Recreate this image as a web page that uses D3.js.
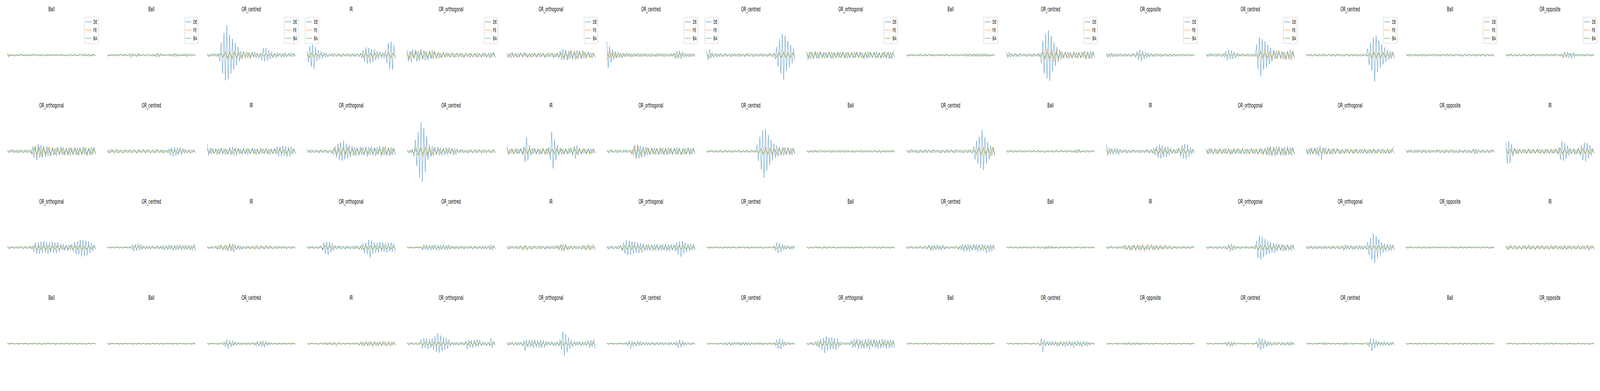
<!DOCTYPE html>
<html><head><meta charset="utf-8">
<script src="https://cdn.jsdelivr.net/npm/d3@7"></script>
<style>html,body{margin:0;padding:0;width:100%;height:100%;overflow:hidden;background:#fff}#chart{width:100%;height:100%}svg{display:block}</style>
</head><body><div id="chart"></div>
<script>
// ---------- labels ----------
const SERIES = ["DE", "FE", "BA"];
const TITLES_R0 = ["Ball","Ball","OR_centred","IR","OR_orthogonal","OR_orthogonal","OR_centred","OR_centred","OR_orthogonal","Ball","OR_centred","OR_opposite","OR_centred","OR_centred","Ball","OR_opposite"];
const TITLES_R1 = ["OR_orthogonal","OR_centred","IR","OR_orthogonal","OR_centred","IR","OR_orthogonal","OR_centred","Ball","OR_centred","Ball","IR","OR_orthogonal","OR_orthogonal","OR_opposite","IR"];
const TITLES_R2 = ["OR_orthogonal","OR_centred","IR","OR_orthogonal","OR_centred","IR","OR_orthogonal","OR_centred","Ball","OR_centred","Ball","IR","OR_orthogonal","OR_orthogonal","OR_opposite","IR"];
const TITLES_R3 = ["Ball","Ball","OR_centred","IR","OR_orthogonal","OR_orthogonal","OR_centred","OR_centred","OR_orthogonal","Ball","OR_centred","OR_opposite","OR_centred","OR_centred","Ball","OR_opposite"];
// legend corner per panel of the first row (only the first row has legends)
const LEGEND_LOC_R0 = ["right","right","right","left","right","right","right","left","right","right","right","right","right","right","right","right"];
// signal amplitude (shared y axis), arbitrary units
const Y_DOMAIN = [-100, 100];

// ---------- row 0 signals ----------
const DE_R0 = [
[4,-5,3,-2,2,-3,1,-2,2,-1,3,-2,1,-3,2,-1,1,-2,3,-1,2,-2,1,-3,2,-1,2,-3,1,-1,2,-2,1,-1,2,-1,1,-2,3,-1,1,-2,1,-1,2,-3,1,-1,2,-1,1,-2,2,-1,3,-3,4,-2,3,-4,2,-3,2,-2],
[2,-3,2,-1,3,-2,1,-3,2,-1,2,-2,3,-1,2,-3,5,-6,4,-3,2,-4,5,-3,2,-1,2,-3,1,-2,2,-1,2,-3,3,-5,6,-5,4,-2,1,-2,2,-1,3,-2,2,-4,5,-4,3,-3,2,-2,3,-2,4,-4,3,-2,3,-1,2,-2],
[3,-4,2,-3,4,-2,3,-4,5,-15,30,-45,55,-62,74,-59,50,-45,40,-35,30,-25,20,-15,10,-8,9,-6,8,-7,6,-8,7,-5,8,-6,5,-7,6,-12,17,-16,18,-14,12,-10,8,-6,5,-7,6,-4,5,-6,4,-5,6,-4,5,-3,6,-5,4,-3],
[10,-18,22,-28,26,-34,20,-15,12,-10,9,-8,7,-6,5,-4,4,-3,5,-4,3,-4,4,-3,3,-4,4,-3,4,-3,3,-5,4,-3,4,-4,3,-4,5,-8,12,-16,19,-21,18,-20,15,-17,14,-12,10,-9,8,-7,6,-8,12,-20,30,-34,33,-36,25,-10],
[12,-15,10,-17,14,-9,13,-16,11,-14,15,-10,12,-13,9,-12,10,-8,11,-9,8,-7,6,-8,5,-6,7,-5,6,-4,5,-6,6,-5,4,-6,5,-4,6,-5,4,-5,6,-4,5,-6,4,-5,5,-4,6,-5,4,-6,5,-4,6,-5,4,-7,6,-5,8,-6],
[5,-6,4,-7,6,-5,4,-6,5,-4,6,-5,7,-4,5,-6,4,-5,6,-4,5,-6,4,-5,6,-4,5,-6,4,-5,6,-4,5,-6,4,-5,6,-7,10,-12,15,-11,13,-12,10,-9,12,-10,9,-11,12,-8,10,-9,11,-8,7,-6,8,-5,6,-7,5,-6],
[34,-31,22,-18,14,-11,9,-8,7,-6,5,-7,5,-4,6,-4,4,-5,3,-4,4,-3,5,-4,3,-4,4,-3,4,-4,3,-4,4,-3,3,-4,4,-3,4,-3,3,-4,4,-3,3,-4,4,-3,5,-9,10,-8,11,-9,8,-6,5,-4,4,-5,3,-4,4,-3],
[10,-12,15,-8,6,-5,4,-5,4,-3,4,-4,3,-4,4,-3,3,-4,4,-3,4,-3,3,-4,4,-3,3,-4,4,-3,4,-3,3,-4,4,-3,3,-4,4,-3,4,-3,3,-4,4,-3,4,-5,6,-10,20,-28,39,-45,52,-60,48,-39,35,-31,25,-20,16,-13],
[9,-11,8,-10,7,-9,10,-8,7,-9,8,-6,7,-8,6,-7,8,-6,7,-8,6,-7,8,-6,7,-6,8,-7,6,-8,7,-6,6,-7,8,-6,7,-6,8,-7,6,-8,7,-6,8,-7,6,-7,7,-6,8,-7,6,-8,7,-6,8,-7,6,-8,7,-9,8,13],
[2,-3,2,-2,3,-2,2,-3,2,-2,3,-2,2,-3,2,-2,3,-2,2,-3,2,-2,3,-2,2,-3,2,-2,3,-2,2,-3,2,-2,3,-2,2,-3,2,-2,3,-2,4,-3,4,-4,3,-4,4,-3,4,-4,3,-4,4,-3,4,-3,3,-4,3,-2,2,-3],
[8,-6,7,-5,4,-3,4,-4,3,-4,4,-3,4,-3,3,-4,4,-3,3,-4,4,-3,4,-3,5,-20,35,-45,52,-57,61,-63,47,-40,31,-26,20,-16,13,-10,8,-7,8,-6,7,-8,6,-7,8,-6,7,-8,6,-7,8,-6,9,-10,8,-9,10,-8,9,-7],
[5,-6,4,-5,6,-4,3,-4,4,-3,4,-4,3,-4,4,-3,3,-4,4,-3,4,-6,9,-12,13,-14,11,-10,8,-7,6,-5,4,-4,3,-4,4,-3,3,-4,3,-3,4,-3,3,-4,3,-3,3,-3,2,-3,3,-2,3,-3,2,-3,3,-2,3,-2,2,-3],
[3,-4,4,-3,4,-3,3,-4,4,-3,3,-4,4,-6,10,-12,13,-10,11,-9,8,-7,5,-4,3,-3,4,-3,3,-3,4,-3,3,-4,3,-3,26,-35,44,-52,39,-36,34,-30,26,-22,18,-16,12,-10,11,-9,10,-8,9,-10,8,-11,10,-9,13,-12,10,-8],
[3,-2,3,-3,2,-3,3,-2,3,-3,2,-3,4,-3,2,-3,3,-2,3,-3,2,-4,3,-2,3,-3,2,-3,3,-2,3,-3,2,-3,3,-2,3,-3,2,-3,3,-2,3,-3,16,-24,31,-38,44,-65,48,-42,36,-31,27,-23,19,-16,13,-11,10,-9,8,-8],
[3,-2,3,-3,2,-3,3,-2,2,-3,3,-2,3,-3,2,-3,3,-2,2,-3,3,-2,3,-3,2,-3,3,-2,2,-3,3,-2,3,-3,2,-3,3,-2,3,-3,2,-3,3,-2,3,-3,2,-2,3,-2,3,-3,2,-3,3,-2,2,-3,3,-2,3,-3,2,-3],
[2,-3,3,-2,3,-3,2,-3,3,-2,2,-3,3,-2,3,-3,2,-3,2,-2,3,-3,2,-2,3,-2,3,-3,2,-3,3,-2,2,-3,3,-2,3,-2,2,-3,4,-7,8,-6,8,-7,6,-8,7,-5,4,-3,3,-2,3,-3,2,-3,3,-2,2,-3,3,-2]
];
const FE_R0 = [
[1,-2,1,-1,2,-1,1,-2,1,-1,2,-1,1,-1,2,-2,1,-1,2,-1,1,-2,1,-1,2,-1,1,-1,2,-2,1,-1,2,-1,1,-2,1,-1,2,-1],
[2,-1,2,-2,1,-1,3,-2,1,-2,2,-1,3,-2,1,-1,2,-1,2,-2,1,-2,2,-1,1,-1,2,-2,3,-1,2,-2,1,-1,2,-3,2,-1,1,-1],
[3,-2,3,-3,2,-3,5,-6,9,-10,8,-11,10,-9,8,-10,9,-8,7,-9,6,-5,4,-5,4,-3,5,-4,3,-5,4,-3,3,-4,4,-3,3,-2,3,-3],
[6,-8,7,-6,5,-4,4,-3,3,-4,3,-3,4,-3,3,-4,3,-3,4,-3,3,-4,4,-3,4,-7,8,-7,6,-8,7,-5,4,-3,4,-5,7,-8,6,-5],
[8,-11,10,-9,12,-10,9,-11,10,-8,11,-9,12,-10,8,-6,6,-7,5,-6,7,-5,6,-5,5,-6,4,-5,6,-4,5,-6,5,-4,6,-5,4,-6,5,-4],
[4,-5,6,-4,5,-6,4,-5,6,-4,5,-5,4,-6,5,-4,6,-5,4,-5,6,-4,5,-6,7,-10,9,-11,10,-9,11,-10,9,-8,10,-9,8,-7,6,-5],
[-12,10,-8,7,-6,5,-5,4,-4,5,-3,4,-4,3,-4,4,-3,4,-3,3,-4,3,-3,4,-3,3,-4,3,-3,4,-5,6,-5,4,-4,3,-3,4,-3,3],
[5,-6,4,-4,3,-4,3,-3,4,-3,3,-4,3,-3,4,-3,3,-3,4,-3,3,-4,3,-3,3,-4,3,-3,4,-3,3,-6,8,-7,9,-8,7,-8,6,-5],
[7,-8,9,-6,8,-7,9,-8,6,-7,8,-9,7,-6,8,-7,6,-8,7,-6,8,-7,9,-6,7,-8,6,-7,8,-6,7,-8,6,-7,8,-6,7,-8,6,-5],
[2,-2,1,-2,2,-1,2,-2,1,-2,2,-1,2,-2,1,-2,2,-1,2,-2,1,-2,2,-1,2,-2,1,-2,2,-1,2,-2,1,-2,2,-1,2,-2,1,-1],
[4,-3,3,-4,3,-3,4,-3,3,-4,3,-3,4,-3,3,-5,8,-12,16,-14,15,-16,12,-13,10,-9,8,-9,7,-8,8,-7,8,-7,8,-9,7,-8,8,-6],
[4,-4,3,-4,3,-3,3,-3,3,-3,3,-3,3,-4,4,-3,4,-3,3,-3,3,-3,3,-2,3,-2,2,-3,2,-2,3,-2,2,-3,2,-2,3,-2,2,-2],
[3,-3,3,-2,3,-3,4,-3,4,-3,3,-3,3,-3,3,-3,3,-3,3,-3,3,-3,3,-8,12,-10,13,-11,10,-13,11,-9,12,-10,8,-11,9,-12,10,-8],
[3,-2,3,-3,2,-3,3,-2,3,-3,2,-3,3,-2,3,-3,2,-3,3,-2,3,-3,2,-3,3,-2,3,-3,5,-8,9,-8,7,-9,8,-7,8,-6,7,-6],
[2,-3,2,-2,3,-2,2,-3,2,-2,3,-2,2,-3,2,-2,3,-2,2,-3,2,-2,3,-2,2,-3,2,-2,3,-2,2,-3,2,-2,3,-2,2,-3,2,-2],
[2,-2,3,-2,2,-3,2,-2,3,-2,2,-2,3,-2,2,-3,2,-2,3,-2,2,-2,3,-2,2,-3,4,-3,4,-3,3,-2,2,-3,2,-2,3,-2,2,-2]
];
const BA_R0 = [
[2,-1,1,-2,1,-1,2,-1,1,-2,1,-1,2,-1,1,-1,2,-2,1,-1,2,-1,1,-2,1,-1,1,-2,2,-1,1,-1,2,-1,1,-2,1,-1,1,-1],
[1,-2,1,-1,2,-1,2,-1,1,-2,2,-1,1,-2,2,-1,1,-1,2,-2,1,-1,2,-1,2,-1,1,-2,1,-1,2,-1,1,-2,1,-1,2,-2,1,-1],
[2,-3,2,-2,3,-2,3,-5,6,-7,5,-6,6,-5,5,-4,4,-3,4,-3,3,-2,3,-3,2,-3,3,-2,3,-3,2,-2,3,-2,2,-3,2,-2,3,-2],
[4,-5,4,-3,3,-2,3,-2,2,-3,2,-2,3,-2,2,-3,2,-2,3,-2,2,-2,3,-2,3,-4,4,-3,4,-3,3,-2,3,-2,3,-3,4,-5,4,-3],
[6,-7,5,-6,7,-5,6,-7,5,-6,7,-5,6,-4,4,-5,4,-3,4,-4,3,-4,4,-3,3,-4,4,-3,4,-4,3,-3,4,-3,3,-4,4,-3,5,-4],
[4,-3,5,-4,3,-5,4,-3,4,-5,3,-4,5,-3,4,-4,3,-5,4,-3,4,-5,3,-4,5,-6,5,-4,6,-5,4,-6,5,-4,5,-3,4,-5,4,-3],
[8,-6,5,-5,4,-4,3,-4,3,-3,4,-3,3,-3,4,-3,3,-3,3,-4,3,-3,3,-3,4,-3,3,-3,3,-3,4,-5,4,-3,3,-3,3,-3,3,-3],
[4,-4,3,-3,3,-3,3,-3,3,-3,3,-3,3,-3,3,-3,3,-3,3,-3,3,-3,3,-3,3,-3,3,-3,3,-3,3,-4,5,-6,5,-5,4,-5,4,-3],
[6,-5,7,-6,5,-6,7,-5,6,-5,6,-7,5,-6,5,-6,7,-5,6,-5,6,-7,5,-6,5,-6,7,-5,6,-5,6,-6,5,-6,6,-5,7,-6,5,-4],
[1,-2,2,-1,2,-2,1,-2,2,-1,2,-2,1,-2,2,-1,1,-2,2,-2,1,-2,2,-1,2,-2,1,-2,2,-2,1,-2,2,-1,2,-2,1,-2,2,-1],
[3,-3,3,-3,3,-3,3,-3,3,-3,3,-3,3,-3,3,-4,6,-8,7,-8,6,-7,5,-6,5,-4,5,-4,4,-5,4,-4,4,-5,4,-4,5,-4,4,-3],
[3,-2,3,-3,2,-3,2,-2,3,-2,2,-3,2,-3,3,-2,3,-3,2,-2,3,-2,2,-2,2,-3,2,-2,2,-3,2,-2,2,-2,3,-2,2,-2,2,-2],
[2,-3,2,-2,3,-2,3,-3,2,-2,3,-2,2,-3,2,-2,3,-2,2,-3,2,-2,3,-4,6,-5,5,-6,4,-5,5,-4,5,-4,4,-5,4,-4,5,-3],
[2,-2,2,-2,2,-2,2,-2,2,-2,2,-2,2,-2,2,-2,2,-2,2,-2,2,-2,2,-2,2,-2,2,-2,3,-5,6,-5,5,-4,5,-4,4,-4,3,-3],
[2,-2,3,-2,2,-3,2,-2,3,-2,2,-2,3,-2,2,-3,2,-2,3,-2,2,-2,3,-2,2,-3,2,-2,3,-2,2,-2,3,-2,2,-3,2,-2,3,-2],
[2,-2,2,-2,2,-2,2,-2,2,-2,2,-2,2,-2,2,-2,2,-2,2,-2,2,-2,2,-2,2,-3,3,-2,3,-2,2,-2,2,-2,2,-2,2,-2,2,-2]
];

// ---------- row 1 signals ----------
const DE_R1 = [
[3,-4,4,-3,4,-4,3,-4,4,-3,4,-4,3,-4,4,-3,4,-6,12,-15,14,-22,18,-17,15,-16,13,-14,12,-11,10,-12,9,-10,8,-11,10,-9,11,-8,10,-9,8,-10,9,-11,8,-9,10,-8,9,-10,8,-9,11,-8,9,-10,8,-9,10,-8,9,-7],
[3,-4,4,-3,4,-3,3,-4,4,-3,3,-4,4,-3,4,-3,3,-4,4,-3,3,-4,4,-3,4,-3,3,-4,4,-3,3,-4,3,-4,4,-3,4,-3,3,-4,4,-3,3,-4,6,-10,9,-12,10,-11,9,-8,10,-9,7,-5,4,-4,3,-4,4,-3,3,-4],
[18,-10,8,-7,8,-6,7,-8,6,-7,8,-6,7,-8,6,-7,10,-9,11,-10,9,-10,8,-7,6,-7,8,-6,7,-8,6,-7,8,-6,7,-8,6,-7,8,-6,7,-6,8,-7,6,-8,7,-6,8,-7,12,-13,11,-12,13,-11,12,-13,10,-12,11,-8,7,-6],
[4,-3,4,-4,3,-4,4,-3,3,-4,4,-3,4,-3,3,-4,4,-3,3,-8,12,-15,18,-21,22,-23,26,-20,19,-17,15,-14,12,-11,10,-12,9,-10,11,-9,10,-9,12,-13,10,-9,11,-10,9,-11,10,-8,13,-12,10,-9,11,-10,9,-12,10,-9,8,-10],
[3,-4,3,-4,4,-13,28,-36,47,-65,72,-75,57,-52,36,-21,16,-13,12,-11,10,-9,11,-10,9,-10,8,-9,10,-8,9,-7,8,-9,7,-8,5,-4,4,-3,4,-3,3,-4,4,-3,4,-4,3,-4,4,-3,4,-3,3,-4,4,-3,3,-4,3,-4,4,-3],
[13,-7,6,-5,6,-7,5,-6,7,-5,6,-8,12,-26,34,-22,15,-10,8,-6,7,-5,6,-7,5,-6,7,-5,6,-8,10,-20,48,-42,30,-22,15,-10,8,-7,6,-7,5,-6,7,-5,8,-10,12,-18,14,-10,8,-7,6,-5,6,-7,5,-6,7,-5,6,-5],
[3,-4,4,-3,4,-4,3,-4,4,-3,3,-4,4,-3,4,-3,3,-4,4,-10,15,-17,16,-17,14,-15,12,-13,10,-9,8,-9,8,-7,9,-8,7,-8,9,-7,8,-9,7,-8,9,-7,8,-8,7,-8,9,-7,8,-9,7,-8,8,-7,9,-8,7,-8,8,-6],
[2,-3,3,-2,3,-3,2,-3,3,-2,3,-3,2,-3,3,-2,3,-3,2,-3,3,-2,3,-3,2,-3,3,-2,3,-3,2,-3,3,-2,3,-3,16,-24,36,-44,52,-65,55,-47,40,-34,28,-23,19,-16,14,-12,11,-10,9,-10,9,-8,10,-9,8,-9,8,-7],
[3,-3,2,-3,3,-2,3,-3,2,-3,3,-2,3,-3,2,-2,3,-3,2,-3,3,-2,2,-3,3,-2,3,-3,2,-3,3,-2,2,-3,3,-3,2,-2,3,-3,2,-3,3,-2,3,-3,2,-3,3,-2,2,-3,3,-3,2,-2,3,-3,2,-3,3,-2,3,-3],
[4,-3,3,-4,4,-3,3,-4,3,-4,4,-3,3,-4,4,-3,4,-3,3,-4,4,-3,4,-4,3,-4,4,-3,3,-4,4,-3,4,-3,3,-4,4,-3,3,-4,3,-4,4,-3,4,-3,3,-6,12,-20,26,-30,36,-42,52,-46,35,-30,23,-19,15,-12,10,-9],
[2,-3,2,-2,3,-2,2,-3,2,-2,3,-2,2,-3,2,-2,3,-2,2,-2,3,-2,2,-3,2,-2,2,-3,2,-2,3,-2,2,-3,2,-2,3,-2,2,-2,3,-2,2,-3,2,-2,3,-2,2,-4,5,-4,5,-3,2,-2,3,-2,2,-3,2,-2,3,-2],
[18,-10,9,-8,7,-8,8,-6,7,-8,5,-4,4,-3,4,-4,3,-4,4,-3,4,-3,3,-4,4,-3,3,-4,4,-3,4,-5,4,-5,8,-10,13,-16,17,-18,15,-14,12,-13,11,-10,8,-6,5,-6,5,-4,8,-12,15,-17,18,-20,16,-14,10,-8,6,-5],
[5,-6,7,-5,6,-7,5,-6,6,-5,7,-6,5,-6,7,-5,6,-7,5,-6,7,-5,6,-6,5,-6,7,-5,6,-7,5,-6,7,-5,6,-6,5,-7,6,-5,6,-7,8,-9,11,-10,12,-11,10,-12,11,-9,12,-10,9,-11,11,-10,12,-9,10,-11,9,-10],
[6,-8,7,-9,8,-7,9,-8,10,-12,14,-20,9,-8,9,-7,8,-7,6,-8,7,-6,7,-5,5,-6,4,-5,6,-4,5,-5,4,-5,5,-4,6,-5,4,-5,5,-4,5,-6,4,-5,5,-4,6,-5,4,-5,5,-4,6,-5,4,-5,5,-6,5,-4,8,13],
[3,-4,4,-3,4,-4,3,-4,4,-3,3,-4,4,-3,4,-4,3,-4,4,-3,3,-4,4,-3,4,-4,3,-4,4,-3,3,-4,4,-3,4,-4,3,-4,4,-3,3,-4,4,-3,4,-4,3,-4,6,-7,6,-5,4,-4,3,-4,4,-3,3,-4,4,-3,4,-3],
[22,-30,25,-28,18,-12,8,-6,5,-6,5,-4,5,-5,4,-5,5,-4,5,-5,4,-5,5,-4,5,-5,4,-5,5,-4,5,-5,4,-5,5,-4,5,-5,10,-20,25,-23,20,-18,14,-10,8,-6,5,-6,5,-5,7,-10,16,-22,22,-25,20,-18,15,-10,7,-5]
];
const FE_R1 = [
[3,-3,4,-3,3,-4,3,-3,4,-3,3,-8,12,-13,11,-13,12,-10,13,-11,10,-9,10,-8,9,-10,8,-9,10,-9,8,-10,9,-8,10,-9,8,-10,9,-7],
[4,-5,6,-7,6,-5,4,-5,4,-4,5,-4,4,-5,4,-4,5,-4,4,-5,4,-4,5,-4,4,-5,4,-4,5,-4,4,-5,5,-4,5,-4,4,-5,4,-4],
[6,-5,7,-6,5,-6,7,-5,6,-7,5,-6,6,-5,7,-6,5,-6,7,-5,6,-6,5,-7,6,-5,6,-7,5,-6,6,-5,7,-6,5,-7,6,-5,6,-5],
[3,-3,4,-3,3,-3,4,-3,3,-3,3,-4,8,-10,9,-11,10,-9,11,-9,10,-8,7,-8,8,-7,6,-8,7,-6,8,-7,8,-9,13,-10,8,-7,8,-6],
[3,-3,4,-6,8,-10,9,-13,12,-13,11,-10,9,-8,7,-6,6,-5,6,-5,5,-6,5,-4,5,-4,4,-5,4,-4,5,-4,4,-5,4,-4,5,-4,4,-4],
[7,-8,6,-7,8,-6,7,-8,9,-7,8,-6,7,-8,6,-7,8,-9,7,-8,6,-7,8,-6,7,-8,6,-7,8,-6,7,-8,6,-7,8,-6,7,-8,6,-5],
[3,-3,4,-3,3,-3,4,-3,3,-3,3,-8,12,-18,14,-11,9,-8,10,-8,9,-7,8,-9,8,-7,9,-8,7,-9,8,-7,8,-9,7,-8,9,-7,8,-6],
[3,-2,3,-3,2,-3,3,-2,3,-3,2,-3,3,-2,3,-3,2,-3,3,-2,3,-3,2,-5,7,-9,10,-11,9,-10,8,-10,9,-8,10,-9,8,-9,8,-7],
[2,-2,2,-3,2,-2,3,-2,2,-2,3,-2,2,-2,2,-3,2,-2,3,-2,2,-3,2,-2,3,-2,2,-2,2,-3,2,-2,2,-3,2,-2,3,-2,2,-2],
[3,-4,4,-3,4,-3,3,-4,4,-3,3,-4,4,-3,3,-4,3,-4,4,-3,3,-4,4,-3,4,-3,3,-4,4,-3,3,-8,10,-12,11,-10,12,-10,11,-12],
[2,-2,3,-2,2,-2,2,-3,2,-2,3,-2,2,-2,3,-2,2,-3,2,-2,2,-3,2,-2,3,-2,2,-2,3,-2,2,-3,3,-2,2,-2,3,-2,2,-2],
[6,-5,4,-5,4,-3,4,-3,3,-4,3,-3,4,-3,3,-4,3,-3,4,-3,3,-5,7,-8,8,-7,8,-6,5,-4,4,-6,8,-7,8,-6,5,-4,4,-3],
[6,-7,8,-6,7,-8,6,-7,8,-6,7,-8,6,-7,8,-6,7,-8,6,-7,8,-6,7,-8,8,-9,7,-8,9,-11,10,-8,9,-8,7,-9,8,-7,8,-6],
[7,-6,8,-7,6,-7,7,-6,7,-8,6,-7,7,-6,6,-7,5,-6,6,-5,6,-7,5,-6,6,-5,6,-6,5,-6,7,-5,6,-6,5,-6,6,-5,7,-6],
[4,-3,3,-4,4,-3,4,-4,3,-4,4,-3,3,-4,4,-3,4,-4,3,-4,4,-3,3,-4,4,-3,4,-4,3,-4,5,-4,4,-3,3,-4,4,-3,4,-3],
[8,-7,6,-8,7,-6,5,-6,6,-5,7,-6,5,-6,7,-5,6,-7,5,-6,6,-5,7,-8,8,-7,6,-7,5,-6,7,-8,8,-7,8,-6,7,-8,6,-5]
];
const BA_R1 = [
[3,-2,3,-3,2,-3,3,-3,2,-3,3,-6,8,-7,8,-7,6,-7,6,-5,6,-6,5,-6,5,-6,6,-5,6,-5,6,-6,5,-6,5,-6,6,-5,5,-4],
[3,-4,3,-3,4,-3,3,-4,3,-3,4,-3,3,-4,3,-3,4,-3,3,-4,3,-3,4,-3,3,-4,3,-3,4,-3,3,-4,3,-3,4,-3,3,-4,3,-3],
[5,-4,5,-5,4,-5,5,-4,4,-5,5,-4,5,-4,4,-5,5,-4,4,-5,5,-4,5,-4,4,-5,5,-4,4,-5,5,-4,5,-4,4,-5,5,-4,4,-4],
[3,-3,3,-2,3,-3,2,-3,3,-3,2,-5,7,-8,6,-7,7,-6,7,-6,5,-6,6,-5,6,-7,5,-6,6,-5,7,-6,5,-6,6,-5,6,-7,5,-5],
[3,-3,3,-5,7,-8,8,-7,6,-7,5,-6,5,-4,4,-4,3,-4,3,-3,4,-3,3,-3,3,-3,3,-3,3,-3,3,-3,3,-3,3,-3,3,-3,3,-3],
[6,-5,6,-6,5,-6,6,-5,6,-6,5,-6,6,-5,6,-6,5,-6,6,-5,6,-6,5,-6,6,-5,6,-6,5,-6,6,-5,6,-6,5,-6,6,-5,6,-5],
[3,-3,3,-3,3,-3,3,-3,3,-3,3,-5,6,-6,5,-6,5,-5,6,-5,5,-6,5,-5,6,-5,5,-6,5,-5,6,-5,5,-6,5,-5,6,-5,5,-4],
[2,-2,2,-2,2,-2,2,-2,2,-2,2,-2,2,-2,2,-2,2,-2,2,-2,2,-2,2,-3,5,-6,5,-5,6,-5,4,-5,5,-4,5,-4,5,-4,4,-3],
[2,-3,2,-2,2,-2,3,-2,2,-2,2,-3,2,-2,3,-2,2,-2,2,-3,2,-2,2,-2,3,-2,2,-2,2,-3,2,-2,2,-2,3,-2,2,-2,2,-2],
[3,-3,4,-3,3,-4,3,-3,4,-3,3,-3,4,-3,3,-4,3,-3,4,-3,3,-3,4,-3,3,-4,3,-3,4,-3,3,-5,6,-5,6,-5,5,-4,4,-3],
[2,-2,2,-3,2,-2,3,-2,2,-2,2,-2,3,-2,2,-2,2,-3,2,-2,3,-2,2,-2,2,-2,3,-2,2,-3,2,-2,2,-2,2,-3,2,-2,2,-2],
[4,-3,4,-3,3,-3,3,-3,3,-3,3,-3,3,-3,3,-3,3,-3,3,-3,3,-4,5,-5,5,-4,5,-4,3,-3,3,-4,5,-5,4,-4,3,-3,3,-3],
[5,-5,4,-5,5,-4,5,-5,4,-5,5,-5,4,-5,5,-4,5,-5,4,-5,5,-4,5,-5,5,-6,6,-5,6,-5,6,-6,5,-6,5,-5,6,-5,5,-4],
[5,-5,4,-5,6,-5,5,-4,5,-6,5,-5,4,-5,5,-4,5,-4,5,-5,4,-4,5,-4,4,-5,4,-4,5,-4,4,-5,4,-4,5,-4,4,-5,4,-3],
[3,-2,3,-3,2,-3,3,-2,3,-3,2,-3,3,-2,3,-3,2,-3,3,-2,3,-3,2,-3,3,-2,3,-3,2,-3,3,-3,3,-2,3,-3,2,-3,3,-2],
[6,-5,5,-4,5,-4,4,-5,4,-5,4,-4,5,-4,4,-5,4,-4,5,-4,4,-5,5,-6,6,-5,5,-4,4,-5,5,-6,6,-5,5,-6,5,-4,4,-4]
];

// ---------- row 2 signals ----------
const DE_R2 = [
[2,-3,3,-2,3,-3,2,-3,3,-2,3,-3,2,-3,3,-2,3,-3,4,-10,13,-15,12,-16,14,-13,15,-12,14,-15,13,-12,14,-13,12,-14,13,-11,8,-7,8,-7,6,-8,7,-6,8,-10,14,-16,15,-18,19,-22,18,-20,17,-19,15,-13,11,-9,7,-5],
[2,-1,2,-2,1,-2,2,-1,2,-2,1,-2,2,-1,2,-2,1,-2,7,-9,8,-8,9,-7,8,-6,4,-3,4,-4,3,-4,4,-3,3,-4,4,-3,4,-5,6,-7,5,-6,7,-5,6,-7,5,-6,7,-5,6,-7,5,-6,7,-5,6,-6,5,-7,8,-8],
[2,-3,2,-3,3,-2,4,-5,5,-4,6,-5,4,-6,5,-7,6,-8,9,-12,7,-6,5,-6,4,-5,3,-3,4,-3,3,-4,3,-3,4,-3,3,-4,4,-3,3,-4,4,-3,4,-3,3,-4,3,-3,4,-3,3,-3,4,-3,3,-3,3,-2,3,-3,2,-2],
[2,-3,3,-2,3,-3,2,-3,3,-2,4,-8,12,-15,14,-18,13,-12,10,-8,5,-4,4,-3,4,-4,3,-4,4,-3,4,-4,3,-4,4,-3,4,-4,3,-6,10,-14,12,-16,19,-26,17,-15,12,-13,11,-12,13,-10,12,-11,10,-12,11,-9,12,-10,9,-12],
[2,-1,2,-2,1,-2,2,-1,2,-2,1,-6,7,-5,7,-6,5,-7,6,-5,7,-6,5,-7,6,-5,7,-6,5,-6,7,-5,4,-3,4,-4,3,-4,4,-3,3,-4,4,-3,4,-3,3,-4,4,-3,3,-4,4,-3,4,-4,3,-4,4,-6,7,-6,5,-3],
[3,-4,4,-3,4,-3,3,-4,4,-3,4,-4,3,-4,4,-3,3,-4,4,-3,4,-4,3,-4,4,-3,3,-4,4,-3,4,-4,3,-4,4,-3,4,-3,6,-8,8,-7,6,-5,4,-4,3,-4,4,-3,4,-4,3,-4,5,-4,5,-4,4,-5,4,-3,4,-3],
[3,-4,4,-3,4,-4,3,-4,4,-3,5,-8,12,-15,18,-19,17,-18,15,-16,14,-13,12,-14,11,-12,10,-9,8,-7,8,-8,7,-8,8,-7,9,-8,7,-8,8,-7,8,-9,7,-8,8,-7,8,-9,13,-17,15,-23,16,-14,12,-11,9,-8,9,-7,8,-7],
[2,-1,2,-2,1,-2,2,-1,2,-2,1,-2,2,-1,2,-2,1,-2,2,-1,2,-2,1,-2,2,-1,2,-2,1,-2,2,-1,2,-2,1,-2,2,-1,2,-2,1,-2,2,-1,2,-2,1,-2,4,-8,12,-13,10,-11,8,-6,5,-4,5,-4,4,-5,4,-3],
[2,-1,2,-2,1,-2,2,-1,2,-2,1,-2,2,-1,2,-2,1,-2,2,-1,2,-2,1,-2,2,-1,2,-2,1,-2,2,-1,2,-2,1,-2,2,-1,2,-2,1,-2,2,-1,2,-2,1,-2,2,-1,2,-2,1,-2,2,-1,2,-2,1,-2,2,-1,2,-2],
[2,-3,3,-2,3,-3,2,-3,3,-2,3,-3,2,-3,3,-2,6,-7,5,-7,6,-5,7,-6,5,-7,6,-5,3,-3,2,-3,3,-2,3,-3,2,-3,3,-6,8,-10,7,-9,8,-10,7,-8,9,-7,8,-10,7,-9,8,-8,7,-13,6,-10,8,-9,7,-6],
[2,-1,2,-2,1,-2,2,-1,2,-2,1,-2,2,-1,2,-2,1,-2,2,-1,2,-2,1,-2,2,-1,2,-3,3,-4,4,-3,4,-3,2,-2,1,-2,2,-1,2,-2,1,-2,2,-1,2,-2,1,-2,2,-1,2,-2,1,-2,2,-1,2,-2,1,-2,2,-1],
[2,-3,3,-2,3,-2,2,-3,3,-2,3,-3,4,-5,5,-4,5,-6,4,-5,6,-5,4,-5,6,-5,5,-6,4,-5,6,-4,5,-5,4,-6,5,-4,4,-3,3,-3,4,-3,3,-3,2,-3,3,-2,3,-3,2,-3,3,-2,3,-3,2,-3,3,-2,3,-2],
[2,-3,3,-2,3,-3,2,-3,3,-2,3,-3,2,-3,3,-5,8,-10,9,-7,6,-4,3,-3,2,-3,3,-2,3,-3,2,-3,3,-2,3,-4,16,-26,29,-30,26,-23,21,-18,16,-15,13,-12,11,-13,10,-9,8,-7,8,-9,7,-8,8,-7,6,-8,7,-6],
[3,-4,4,-3,4,-4,3,-4,4,-3,4,-4,3,-4,4,-3,3,-4,4,-3,4,-4,3,-4,4,-3,5,-8,7,-5,5,-4,5,-5,4,-5,5,-4,5,-5,4,-5,5,-4,13,-18,23,-30,34,-38,28,-26,20,-18,13,-13,10,-9,8,-9,7,-8,7,-6],
[1,-2,2,-1,2,-2,1,-2,2,-1,2,-2,1,-2,2,-1,2,-2,1,-2,2,-1,2,-2,1,-2,2,-1,2,-2,1,-2,2,-1,2,-2,1,-2,2,-1,2,-2,1,-2,2,-1,2,-2,1,-2,2,-1,2,-2,1,-2,2,-1,2,-2,1,-2,2,-1],
[3,-4,4,-3,4,-3,3,-4,4,-3,3,-4,4,-3,4,-4,3,-4,4,-3,3,-4,4,-3,4,-3,4,-4,3,-4,4,-3,3,-4,4,-3,4,-3,3,-4,4,-4,3,-4,4,-3,4,-3,3,-4,4,-3,4,-4,3,-4,4,-3,5,-7,4,-3,4,-3]
];
const FE_R2 = [
[3,-3,2,-3,3,-2,3,-3,3,-3,4,-3,6,-7,5,-6,7,-6,5,-7,6,-5,6,-6,5,-6,5,-5,6,-5,5,-6,7,-6,5,-6,5,-4,4,-3],
[1,-2,2,-1,2,-2,1,-2,2,-1,2,-4,4,-3,4,-3,3,-4,3,-3,4,-3,3,-4,3,-4,3,-4,4,-3,4,-3,4,-3,3,-4,4,-3,4,-3],
[2,-2,3,-2,3,-4,7,-8,8,-9,10,-8,7,-6,5,-4,3,-3,3,-4,5,-6,6,-5,6,-5,6,-4,4,-3,3,-3,3,-2,3,-3,2,-3,2,-2],
[2,-2,3,-2,2,-3,4,-5,5,-4,5,-4,3,-3,3,-3,3,-3,3,-3,3,-3,4,-5,5,-6,5,-4,5,-5,4,-5,5,-4,5,-4,4,-5,4,-4],
[1,-2,1,-2,2,-1,3,-4,4,-3,4,-3,4,-4,3,-4,4,-3,4,-3,3,-4,3,-3,4,-3,3,-3,4,-3,3,-3,3,-4,3,-3,4,-4,3,-3],
[3,-4,3,-3,4,-3,5,-7,6,-7,5,-6,4,-3,4,-3,3,-4,3,-3,4,-3,5,-8,8,-10,9,-7,5,-4,4,-3,4,-5,6,-8,9,-7,8,-9],
[3,-3,3,-3,3,-4,5,-6,5,-5,6,-5,5,-4,5,-5,4,-5,5,-4,5,-5,4,-5,5,-4,5,-5,4,-5,5,-6,6,-5,5,-5,4,-5,4,-4],
[2,-2,2,-2,2,-2,2,-2,2,-2,2,-2,2,-2,2,-2,2,-2,2,-2,2,-2,2,-2,2,-2,2,-2,2,-2,3,-4,3,-3,3,-3,3,-3,3,-2],
[2,-2,1,-2,2,-2,2,-3,4,-4,3,-2,2,-2,1,-2,2,-2,2,-3,2,-2,1,-2,2,-2,2,-2,3,-2,2,-2,2,-3,2,-2,2,-2,2,-2],
[2,-2,2,-3,2,-2,3,-2,4,-5,4,-5,4,-4,3,-3,2,-3,2,-3,3,-3,4,-5,5,-4,5,-5,4,-5,5,-4,5,-5,4,-5,5,-4,4,-4],
[2,-2,2,-2,1,-2,2,-2,2,-1,2,-2,2,-2,3,-3,3,-2,2,-3,2,-2,2,-2,2,-2,2,-2,2,-2,2,-2,2,-2,2,-2,2,-2,2,-2],
[2,-2,3,-2,2,-3,2,-2,6,-7,6,-8,7,-8,8,-9,9,-10,8,-7,8,-7,6,-8,7,-6,7,-5,6,-5,4,-3,3,-3,3,-3,3,-2,3,-2],
[2,-2,3,-2,2,-3,2,-2,3,-4,5,-4,3,-3,2,-3,3,-2,3,-3,2,-3,5,-6,7,-6,6,-7,5,-6,6,-5,6,-6,5,-6,6,-5,5,-4],
[3,-3,3,-3,3,-3,3,-3,3,-3,3,-3,3,-3,4,-4,4,-4,4,-4,4,-4,4,-4,4,-4,4,-5,5,-6,6,-5,5,-5,5,-4,4,-5,4,-4],
[2,-2,2,-2,2,-2,2,-3,4,-3,2,-2,2,-2,2,-2,2,-2,2,-2,2,-2,2,-2,3,-2,2,-2,2,-2,2,-2,2,-2,2,-2,2,-2,2,-2],
[5,-6,7,-5,6,-7,5,-6,6,-5,7,-6,5,-7,6,-5,7,-6,5,-6,7,-5,6,-7,5,-6,7,-6,5,-7,6,-5,7,-6,5,-6,7,-5,6,-5]
];
const BA_R2 = [
[2,-2,2,-2,2,-2,3,-2,2,-3,2,-3,4,-5,4,-5,5,-4,5,-5,4,-5,4,-4,4,-4,5,-4,4,-5,5,-4,5,-5,4,-5,4,-4,3,-3],
[1,-1,1,-1,2,-1,1,-1,1,-1,2,-2,3,-2,3,-2,2,-2,2,-2,2,-2,2,-2,2,-3,2,-2,3,-2,2,-3,2,-2,3,-2,2,-3,2,-2],
[2,-2,2,-2,2,-3,3,-3,4,-3,4,-3,3,-3,3,-2,2,-2,2,-2,3,-3,3,-3,3,-2,3,-2,2,-2,2,-2,2,-2,2,-2,2,-2,2,-2],
[2,-2,2,-2,2,-2,3,-4,5,-4,5,-3,3,-3,3,-3,3,-3,3,-3,3,-3,3,-4,5,-5,4,-5,4,-4,5,-4,4,-5,4,-4,5,-4,4,-4],
[1,-1,1,-1,1,-1,2,-2,3,-2,3,-2,2,-3,2,-2,3,-2,2,-2,2,-2,2,-2,2,-2,2,-2,2,-2,2,-2,2,-2,3,-2,3,-2,2,-2],
[3,-3,3,-3,3,-3,3,-3,3,-4,3,-3,3,-3,3,-3,3,-3,3,-3,3,-3,4,-4,4,-4,4,-3,3,-3,3,-3,3,-3,3,-4,4,-4,3,-3],
[3,-3,3,-3,3,-3,4,-5,5,-5,5,-4,5,-4,4,-4,4,-4,4,-4,4,-4,4,-4,4,-4,4,-4,4,-4,5,-5,5,-5,4,-4,4,-4,4,-4],
[1,-2,1,-1,2,-1,1,-2,1,-1,2,-1,1,-2,1,-1,2,-1,1,-2,1,-1,2,-1,1,-2,1,-1,2,-1,2,-3,3,-2,2,-3,2,-2,2,-2],
[1,-2,1,-1,2,-1,1,-2,1,-1,2,-1,1,-2,1,-1,2,-1,1,-2,1,-1,2,-1,1,-2,1,-1,2,-1,1,-2,1,-1,2,-1,1,-2,1,-1],
[2,-2,2,-2,2,-2,2,-2,3,-3,3,-3,3,-3,2,-2,2,-2,2,-2,2,-2,3,-4,4,-3,4,-4,3,-4,4,-3,4,-4,3,-4,4,-3,3,-3],
[1,-1,2,-1,1,-2,1,-1,2,-1,1,-2,1,-1,2,-2,2,-2,1,-1,2,-1,1,-2,1,-1,2,-1,1,-2,1,-1,2,-1,1,-1,2,-1,1,-1],
[2,-2,2,-2,2,-2,2,-2,3,-4,3,-4,4,-4,4,-3,4,-4,3,-4,4,-3,3,-4,3,-3,4,-3,3,-3,2,-2,2,-2,2,-2,2,-2,2,-2],
[2,-2,2,-2,2,-2,2,-2,3,-3,3,-3,2,-2,2,-2,2,-2,2,-2,2,-2,4,-5,5,-5,4,-5,5,-4,4,-5,4,-4,5,-4,4,-4,4,-3],
[2,-2,2,-2,2,-2,2,-2,2,-2,2,-2,2,-2,3,-3,3,-3,3,-3,3,-3,3,-3,3,-3,3,-4,4,-4,4,-4,4,-3,3,-4,3,-3,3,-3],
[1,-1,2,-1,1,-1,2,-1,1,-2,1,-1,2,-1,1,-1,2,-1,1,-1,2,-1,1,-2,1,-1,2,-1,1,-1,2,-1,1,-1,2,-1,1,-2,1,-1],
[3,-4,3,-3,4,-3,3,-4,3,-3,4,-3,3,-4,3,-3,4,-3,3,-4,3,-3,4,-3,3,-4,3,-3,4,-3,3,-4,3,-3,4,-3,3,-4,3,-3]
];

// ---------- row 3 signals ----------
const DE_R3 = [
[1,-1,2,-1,1,-2,1,-1,2,-1,1,-1,2,-1,1,-2,1,-1,2,-1,1,-1,2,-1,1,-2,1,-1,2,-1,1,-1,2,-1,1,-2,1,-1,2,-1,1,-1,2,-1,1,-2,1,-1,2,-1,1,-1,2,-1,1,-2,1,-1,2,-1,1,-1,2,-1],
[1,-2,1,-1,2,-1,1,-1,1,-2,1,-1,2,-1,1,-1,2,-1,1,-2,1,-1,2,-1,1,-1,2,-1,1,-2,1,-1,1,-1,2,-1,1,-1,2,-2,1,-1,2,-1,1,-2,1,-1,2,-1,1,-1,2,-1,1,-2,1,-1,2,-1,1,-2,2,-1],
[1,-2,1,-1,2,-1,1,-2,1,-1,2,-1,5,-8,10,-13,9,-8,7,-6,5,-4,3,-3,2,-3,3,-2,3,-3,2,-3,3,-2,3,-5,6,-6,7,-8,7,-9,6,-5,4,-3,2,-2,2,-2,2,-2,2,-2,2,-2,2,-2,2,-2,2,-2,2,-1],
[1,-2,1,-1,2,-1,1,-2,1,-1,2,-1,2,-3,3,-2,3,-3,2,-3,2,-2,2,-2,2,-2,1,-2,2,-1,2,-2,2,-2,2,-2,2,-3,3,-4,4,-5,4,-4,5,-4,4,-5,5,-4,4,-5,4,-5,5,-4,4,-5,5,-4,5,-4,4,-3],
[2,-3,3,-2,3,-3,2,-3,3,-2,10,-12,13,-11,12,-13,11,-10,13,-15,18,-20,26,-22,20,-18,16,-15,14,-12,10,-6,4,-3,4,-4,3,-4,4,-3,4,-3,6,-13,10,-9,8,-10,9,-8,10,-7,8,-5,4,-5,4,-5,4,-5,13,-10,6,-4],
[3,-4,4,-3,4,-4,3,-4,4,-3,4,-5,8,-17,10,-9,10,-8,9,-11,10,-9,8,-10,9,-10,8,-9,6,-5,5,-4,5,-5,4,-5,5,-6,10,-15,30,-30,24,-21,16,-12,10,-8,6,-5,5,-4,5,-5,4,-5,5,-4,8,-10,9,-8,10,-12],
[1,-2,1,-1,2,-1,1,-2,1,-1,2,-2,1,-2,4,-6,7,-13,6,-7,5,-6,7,-5,6,-5,4,-3,4,-4,3,-4,4,-3,3,-4,4,-3,4,-3,3,-4,4,-3,3,-4,4,-3,3,-4,6,-10,10,-9,8,-6,4,-3,3,-3,2,-3,3,-2],
[1,-2,1,-1,2,-1,1,-2,1,-1,2,-1,1,-4,4,-3,4,-4,3,-4,4,-3,4,-4,3,-4,4,-3,4,-4,3,-4,3,-2,2,-3,3,-2,3,-3,2,-3,3,-2,3,-2,2,-3,3,-6,10,-12,13,-13,10,-7,5,-4,3,-3,3,-3,2,-2],
[2,-3,3,-2,3,-3,2,-5,8,-10,12,-15,14,-23,18,-16,15,-14,16,-13,14,-15,12,-8,5,-3,3,-2,3,-3,2,-3,8,-10,11,-9,12,-13,10,-11,9,-12,11,-10,12,-15,10,-9,11,-10,9,-12,10,-11,12,-9,10,-12,9,-11,10,-9,8,-10],
[1,-1,2,-1,1,-2,1,-1,2,-1,1,-1,2,-1,1,-2,1,-1,2,-1,1,-1,2,-2,1,-1,2,-1,1,-2,1,-1,2,-1,1,-1,2,-1,1,-2,1,-1,2,-1,1,-1,2,-1,1,-2,1,-1,2,-1,1,-1,2,-1,1,-2,1,-1,2,-1],
[1,-1,2,-1,1,-2,1,-1,2,-1,1,-2,1,-1,2,-1,1,-2,1,-1,2,-1,1,-2,-6,13,-20,10,-7,6,-5,6,-5,6,-4,5,-6,4,-5,6,-6,5,-7,6,-5,7,-6,5,-10,6,-5,7,-6,5,-8,6,-5,6,-7,4,-3,2,-2,1],
[1,-1,2,-1,1,-2,1,-1,2,-1,1,-1,2,-3,3,-2,3,-3,2,-3,3,-2,3,-3,2,-3,2,-1,1,-2,1,-1,2,-1,1,-1,2,-1,1,-2,1,-1,2,-1,1,-1,2,-1,1,-2,1,-1,2,-1,1,-1,2,-1,1,-2,1,-1,2,-1],
[1,-1,2,-1,1,-2,1,-1,2,-1,1,-1,2,-1,5,-6,6,-7,5,-6,4,-2,1,-1,2,-1,1,-2,1,-1,2,-1,1,-2,1,-1,6,-10,13,-15,12,-11,9,-8,6,-5,4,-4,3,-4,4,-3,4,-3,3,-4,3,-4,4,-5,5,-4,3,-3],
[1,-1,2,-1,1,-2,1,-1,2,-1,1,-1,4,-4,3,-2,1,-1,2,-1,1,-2,1,-1,2,-1,1,-4,4,-3,1,-1,1,-2,1,-1,2,-1,1,-2,1,-1,2,-1,4,-8,13,-18,12,-11,8,-6,5,-5,4,-5,5,-4,4,-5,4,-3,4,-3],
[1,-2,1,-1,2,-1,1,-1,2,-1,1,-2,1,-1,2,-1,1,-1,2,-1,1,-2,1,-1,2,-1,1,-1,2,-1,1,-2,1,-1,2,-1,1,-1,2,-1,1,-2,1,-1,2,-1,1,-1,2,-1,1,-2,1,-1,2,-1,1,-1,2,-1,1,-2,1,-1],
[1,-1,2,-1,1,-1,2,-1,1,-2,1,-1,2,-1,1,-1,2,-1,1,-2,1,-1,2,-1,1,-1,2,-1,1,-2,1,-1,2,-1,1,-1,2,-1,1,-2,1,-1,2,-1,1,-1,2,-1,1,-2,1,-1,2,-1,1,-1,2,-1,1,-2,1,-1,2,-1]
];
const FE_R3 = [
[1,-1,2,-1,1,-2,1,-1,2,-1,2,-2,3,-2,2,-3,2,-2,3,-2,2,-3,2,-2,2,-2,3,-2,2,-2,2,-3,2,-2,2,-2,2,-1,2,-1],
[1,-2,1,-1,2,-1,1,-2,2,-1,2,-2,1,-2,2,-1,2,-2,1,-2,2,-1,2,-2,1,-2,2,-1,2,-2,1,-2,2,-1,2,-2,1,-2,3,-3],
[1,-1,1,-1,1,-2,2,-3,4,-4,3,-4,3,-3,2,-2,2,-2,2,-2,3,-4,4,-3,4,-3,3,-2,2,-2,2,-2,2,-2,2,-2,2,-1,2,-1],
[1,-1,2,-1,1,-2,2,-2,3,-4,5,-4,4,-8,5,-3,2,-2,2,-2,2,-2,3,-5,6,-7,7,-6,7,-8,6,-7,7,-6,7,-8,6,-7,6,-5],
[2,-2,2,-2,2,-3,4,-5,5,-4,5,-6,5,-5,6,-5,5,-4,4,-3,3,-3,3,-3,3,-4,5,-4,5,-4,4,-5,4,-3,3,-4,3,-4,4,-3],
[3,-3,3,-3,3,-3,3,-4,4,-5,5,-4,5,-4,4,-5,4,-4,4,-3,3,-3,3,-4,6,-5,5,-4,3,-3,3,-3,3,-3,3,-4,4,-5,4,-4],
[1,-1,1,-2,1,-1,2,-1,1,-2,3,-3,2,-3,3,-2,2,-3,2,-2,3,-2,2,-3,2,-2,3,-2,2,-2,2,-3,3,-3,3,-2,2,-2,2,-2],
[1,-1,1,-1,1,-2,2,-2,2,-3,2,-3,3,-2,2,-3,2,-2,2,-2,2,-2,2,-2,2,-2,2,-2,2,-2,2,-3,4,-3,3,-3,3,-2,2,-2],
[2,-3,3,-4,5,-6,6,-5,6,-5,6,-6,5,-5,4,-4,3,-3,3,-2,4,-5,6,-5,6,-6,5,-6,6,-5,6,-6,5,-6,6,-5,6,-5,5,-4],
[1,-2,2,-1,2,-2,1,-2,2,-1,2,-2,3,-2,1,-2,2,-1,2,-2,1,-2,2,-2,3,-2,1,-2,2,-1,2,-2,1,-2,2,-3,2,-1,2,-1],
[1,-1,1,-1,1,-1,1,-2,2,-1,1,-2,1,-2,3,-4,3,-3,4,-3,3,-3,4,-6,4,-3,4,-3,4,-3,3,-4,3,-3,3,-2,2,-2,2,-1],
[1,-2,1,-1,2,-2,1,-2,2,-2,3,-2,2,-3,2,-2,2,-1,2,-2,1,-2,2,-1,2,-2,1,-2,2,-1,2,-2,1,-2,2,-1,2,-2,1,-1],
[1,-1,1,-1,1,-1,1,-1,1,-2,3,-3,2,-2,1,-1,1,-1,1,-1,1,-2,3,-4,4,-3,4,-3,3,-3,3,-3,3,-3,3,-3,4,-3,3,-3],
[1,-1,1,-1,1,-1,2,-1,1,-1,2,-1,1,-1,2,-2,1,-1,2,-1,1,-1,1,-1,2,-2,2,-3,3,-2,2,-2,3,-2,2,-2,2,-3,2,-2],
[1,-1,2,-1,2,-3,2,-1,2,-2,1,-2,2,-3,2,-1,2,-2,3,-2,1,-2,2,-2,3,-2,2,-1,2,-3,2,-2,1,-2,3,-2,2,-1,2,-1],
[1,-1,2,-1,1,-2,1,-1,2,-1,1,-2,2,-1,2,-2,1,-2,3,-2,3,-2,2,-1,2,-2,1,-2,2,-1,1,-2,2,-1,2,-2,1,-2,1,-1]
];
const BA_R3 = [
[1,-1,1,-1,1,-1,1,-1,1,-1,1,-1,1,-1,1,-1,1,-1,1,-1,1,-1,1,-1,1,-1,1,-1,1,-1,1,-1,1,-1,1,-1,1,-1,1,-1],
[1,-1,1,-1,1,-1,1,-1,1,-1,1,-1,1,-1,1,-1,1,-1,1,-1,1,-1,1,-1,1,-1,1,-1,1,-1,1,-1,1,-1,1,-1,1,-1,1,-1],
[1,-1,1,-1,1,-1,1,-2,2,-2,2,-2,2,-1,1,-1,1,-1,1,-1,2,-2,2,-2,2,-2,1,-1,1,-1,1,-1,1,-1,1,-1,1,-1,1,-1],
[1,-1,1,-1,1,-1,1,-1,2,-2,2,-2,2,-2,1,-1,1,-1,1,-1,1,-1,2,-2,2,-2,2,-2,2,-2,2,-2,2,-2,2,-2,2,-2,2,-2],
[2,-2,2,-2,2,-2,3,-4,4,-4,4,-4,4,-4,4,-4,4,-3,3,-2,2,-2,2,-2,2,-3,4,-3,4,-3,3,-3,3,-3,3,-3,3,-3,3,-2],
[2,-3,2,-2,3,-2,2,-3,3,-4,3,-3,4,-3,3,-3,3,-3,3,-2,2,-3,3,-4,4,-4,3,-3,2,-3,2,-2,3,-2,3,-3,3,-4,3,-3],
[1,-1,1,-1,1,-1,1,-1,1,-1,2,-2,2,-2,2,-2,2,-2,2,-2,2,-2,2,-2,2,-2,2,-2,2,-2,2,-2,2,-2,2,-2,2,-2,2,-1],
[1,-1,1,-1,1,-1,1,-1,1,-2,1,-2,2,-1,2,-1,1,-1,1,-1,1,-1,1,-1,1,-1,1,-1,1,-1,1,-2,2,-2,2,-2,2,-1,1,-1],
[2,-2,2,-3,4,-5,4,-5,5,-4,5,-4,4,-4,3,-3,2,-2,2,-2,3,-4,4,-5,4,-5,5,-4,4,-5,5,-4,5,-4,4,-5,4,-4,4,-3],
[1,-1,1,-1,1,-1,1,-1,1,-1,1,-1,1,-1,1,-1,1,-1,1,-1,1,-1,1,-1,1,-1,1,-1,1,-1,1,-1,1,-1,1,-1,1,-1,1,-1],
[1,-1,1,-1,1,-1,1,-1,1,-1,1,-1,1,-2,2,-2,2,-2,2,-2,2,-2,2,-2,2,-2,2,-2,2,-2,2,-2,2,-2,2,-2,1,-1,1,-1],
[1,-1,1,-1,1,-1,1,-1,1,-1,1,-1,1,-1,1,-1,1,-1,1,-1,1,-1,1,-1,1,-1,1,-1,1,-1,1,-1,1,-1,1,-1,1,-1,1,-1],
[1,-1,1,-1,1,-1,1,-1,1,-1,2,-2,1,-1,1,-1,1,-1,1,-1,1,-1,2,-2,2,-2,2,-2,2,-2,2,-2,2,-2,2,-2,2,-2,2,-2],
[1,-1,1,-1,1,-1,1,-1,1,-1,1,-1,1,-1,1,-1,1,-1,1,-1,1,-1,1,-1,1,-1,1,-2,2,-2,2,-1,2,-1,2,-1,1,-2,1,-1],
[1,-1,1,-1,1,-1,1,-1,1,-1,1,-1,1,-1,1,-1,1,-1,1,-1,1,-1,1,-1,1,-1,1,-1,1,-1,1,-1,1,-1,1,-1,1,-1,1,-1],
[1,-1,1,-1,1,-1,1,-1,1,-1,1,-1,1,-1,1,-1,1,-1,1,-1,1,-1,1,-1,1,-1,1,-1,1,-1,1,-1,1,-1,1,-1,1,-1,1,-1]
];

// ---------- layout & style ----------
const W = 8000, H = 1000;
const COLORS = ["#1f77b4", "#ff7f0e", "#2ca02c"];
const COL_PITCH = 499.5, ROW_PITCH = 246;
const DATA_X0 = 37, DATA_X1 = 478;      // horizontal data extent inside a cell
const ZERO_Y = 141, HALF_H = 104;       // zero line and half height of an axes
const TITLE_X = 257.5, TITLE_Y = 29;
const FONT = "'DejaVu Sans', sans-serif";

// the svg fills the whole window; drawing units are the 8000x1000 figure pixels
const svg = d3.select("#chart").append("svg")
  .attr("width", "100%").attr("height", "100%")
  .attr("viewBox", `0 0 ${W} ${H}`)
  .attr("preserveAspectRatio", "none")
  .style("background", "#ffffff");
svg.append("rect").attr("width", W).attr("height", H).attr("fill", "#ffffff");

const ROWS = [
  { titles: TITLES_R0, data: [DE_R0, FE_R0, BA_R0], legend: LEGEND_LOC_R0 },
  { titles: TITLES_R1, data: [DE_R1, FE_R1, BA_R1], legend: null },
  { titles: TITLES_R2, data: [DE_R2, FE_R2, BA_R2], legend: null },
  { titles: TITLES_R3, data: [DE_R3, FE_R3, BA_R3], legend: null }
];

ROWS.forEach((row, r) => {
  row.titles.forEach((title, c) => {
    const ox = c * COL_PITCH, oy = r * ROW_PITCH;
    const g = svg.append("g").attr("class", `panel r${r} c${c}`);
    const x = d3.scaleLinear().domain([0, 1]).range([ox + DATA_X0, ox + DATA_X1]);
    const y = d3.scaleLinear().domain(Y_DOMAIN).range([oy + ZERO_Y + HALF_H, oy + ZERO_Y - HALF_H]);

    SERIES.forEach((name, k) => {
      const vals = row.data[k][c];
      const n = vals.length;
      const line = d3.line().x((d, i) => x(i / (n - 1))).y(d => y(d));
      g.append("path")
        .datum(vals)
        .attr("d", line)
        .attr("fill", "none")
        .attr("stroke", COLORS[k])
        .attr("stroke-width", 0.7)
        .attr("vector-effect", "non-scaling-stroke")
        .attr("stroke-linejoin", "round");
    });

    g.append("text")
      .attr("x", ox + TITLE_X).attr("y", oy + TITLE_Y)
      .attr("text-anchor", "middle")
      .attr("font-family", FONT).attr("font-size", 16.7)
      .attr("fill", "#000")
      .text(title);

    if (row.legend) {
      const lw = 69, lh = 67;
      const lx = row.legend[c] === "left" ? ox + 27 : ox + 423;
      const ly = oy + 44;
      const lg = g.append("g");
      lg.append("rect")
        .attr("x", lx).attr("y", ly).attr("width", lw).attr("height", lh)
        .attr("rx", 3).attr("ry", 3)
        .attr("fill", "#ffffff").attr("fill-opacity", 0.8)
        .attr("stroke", "#cccccc").attr("stroke-width", 1)
        .attr("vector-effect", "non-scaling-stroke");
      SERIES.forEach((name, k) => {
        const yy = ly + 12 + k * 21;
        lg.append("line")
          .attr("x1", lx + 5).attr("x2", lx + 34)
          .attr("y1", yy).attr("y2", yy)
          .attr("stroke", COLORS[k]).attr("stroke-width", 1)
          .attr("vector-effect", "non-scaling-stroke");
        lg.append("text")
          .attr("x", lx + 44).attr("y", yy + 5)
          .attr("font-family", FONT).attr("font-size", 13.9)
          .attr("fill", "#000")
          .text(name);
      });
    }
  });
});
</script>
</body></html>
